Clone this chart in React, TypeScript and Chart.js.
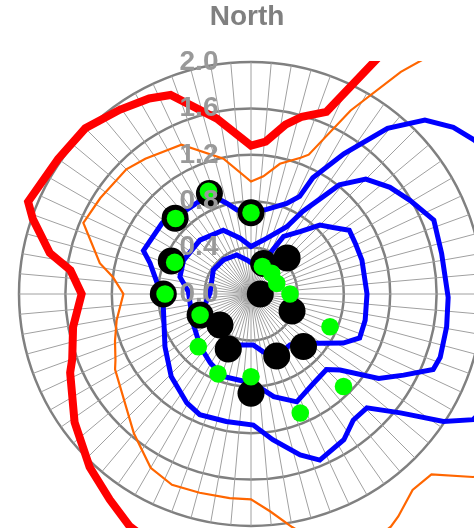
import React, { useEffect, useRef } from 'react';
import { Chart, registerables } from 'chart.js';

Chart.register(...registerables);

// Angular resolution of the radar categories (degrees)
const ANGLE_STEP = 0.5;
const ANGLE_COUNT = 720;
const SPOKE_EVERY = 10; // a spoke every 5 degrees

const titleText = 'North';
const tickValues = [0, 0.4, 0.8, 1.2, 1.6, 2.0];
const tickLabels = ['0.0', '0.4', '0.8', '1.2', '1.6', '2.0'];

// Outer red contour (angle clockwise from North, radius)
const redAngles = [0, 5.5, 11.5, 16, 22.5, 30, 45, 90, 135, 180, 207.5, 214.5, 223, 234, 246.5, 250, 259.5, 270, 277.5, 281.5, 289, 292.5, 305, 315, 324.5, 332.5, 338, 349];
const redValues = [1.28, 1.32, 1.49, 1.59, 1.70, 2.6, 2.9, 2.9, 2.9, 2.8, 2.26, 2.15, 2.04, 1.88, 1.70, 1.64, 1.56, 1.46, 1.57, 1.77, 1.99, 2.08, 2.03, 2.02, 1.95, 1.90, 1.85, 1.54];

// Orange contour
const orangeAngles = [0, 6, 12.5, 20, 22.5, 28.5, 34, 40, 50, 90, 120, 129.5, 135, 140.5, 146.5, 149, 160, 170, 175, 180, 186, 194.5, 202.5, 210, 220, 241, 244, 251, 259, 270, 277, 281.5, 293, 302.5, 315, 322, 335, 348.5];
const orangeValues = [0.97, 1.02, 1.15, 1.25, 1.30, 1.80, 2.31, 2.93, 3.3, 3.3, 3.0, 2.48, 2.2, 2.19, 2.30, 2.34, 2.45, 2.04, 1.88, 1.77, 1.77, 1.77, 1.78, 1.73, 1.57, 1.34, 1.30, 1.24, 1.18, 1.10, 1.20, 1.33, 1.57, 1.54, 1.52, 1.48, 1.42, 1.19];

// Outer blue contour
const blueOuterAngles = [0, 10.5, 21.5, 26.5, 28, 33.5, 39.5, 45, 50.5, 55.5, 70, 90, 110, 119.5, 123.5, 128.5, 134.5, 141, 147.5, 157.5, 163, 171.5, 179, 191, 203, 210.5, 224, 238.5, 266, 274.5, 280, 287, 292, 308.5, 312.5, 315, 337.5, 345, 350.5];
const blueOuterValues = [0.70, 0.742, 0.84, 0.94, 1.135, 1.45, 1.85, 2.12, 2.26, 2.34, 2.5, 2.4, 2.35, 2.20, 1.99, 1.646, 1.40, 1.40, 1.49, 1.55, 1.45, 1.27, 1.13, 1.12, 1.13, 1.09, 0.99, 0.87, 0.76, 0.80, 0.84, 0.91, 1.0, 0.98, 0.97, 0.93, 0.93, 0.81, 0.735];

// Middle blue contour
const blueMiddleAngles = [0, 13, 28, 32, 39, 45, 52.5, 59.5, 68, 78, 91, 99.5, 108.5, 112.5, 118, 123.5, 130.5, 135, 145, 157, 167.5, 178.5, 187.5, 198.5, 210.5, 224, 243, 272, 283.5, 296.5, 316.5, 336.5, 349];
const blueMiddleValues = [0.41, 0.477, 0.657, 0.84, 1.21, 1.40, 1.51, 1.59, 1.70, 1.68, 1.70, 1.71, 1.72, 1.70, 1.49, 1.32, 1.01, 0.92, 0.94, 1.01, 0.906, 0.77, 0.75, 0.75, 0.69, 0.63, 0.56, 0.54, 0.63, 0.65, 0.64, 0.60, 0.49];

// Inner blue contour
const blueInnerAngles = [0, 12, 25, 29.5, 38.5, 45, 51, 57, 64, 73, 90, 103, 112, 118, 125.5, 135, 142.5, 157.5, 168, 177.5, 192, 204, 225, 247.5, 271, 302.5, 321, 340, 353];
const blueInnerValues = [0.27, 0.24, 0.39, 0.57, 0.69, 0.84, 0.91, 1.01, 1.0, 1.0, 1.0, 1.01, 1.01, 0.9, 0.73, 0.6, 0.553, 0.58, 0.51, 0.44, 0.45, 0.51, 0.38, 0.47, 0.354, 0.385, 0.378, 0.358, 0.296];

// Black markers
const blackAngles = [0, 22.5, 45, 90, 112.5, 135, 157.5, 180, 202.5, 225, 247.5, 270, 292.5, 315, 337.5];
const blackValues = [0.70, 0.285, 0.44, 0.08, 0.383, 0.64, 0.579, 0.856, 0.513, 0.378, 0.475, 0.756, 0.744, 0.925, 0.937];

// Green markers
const greenAngles = [0, 22.5, 45, 67.5, 90, 112.5, 135, 157.5, 180, 202.5, 225, 247.5, 270, 292.5, 315, 337.5];
const greenValues = [0.70, 0.257, 0.252, 0.24, 0.336, 0.737, 1.128, 1.11, 0.713, 0.745, 0.642, 0.475, 0.741, 0.712, 0.92, 0.958];

const angleLabels = Array.from({ length: ANGLE_COUNT }, (_, i) => String(i * ANGLE_STEP));

function toSeries(angles: number[], values: number[]): (number | null)[] {
  const arr: (number | null)[] = new Array(ANGLE_COUNT).fill(null);
  angles.forEach((a, i) => {
    arr[Math.round(a / ANGLE_STEP) % ANGLE_COUNT] = values[i];
  });
  return arr;
}

const FONT_FAMILY = '"Liberation Sans", Arial, Helvetica, sans-serif';

const tickLabelPlugin = {
  id: 'tickLabelPlugin',
  afterDatasetsDraw(chart: any) {
    const s = chart.scales.r;
    const ctx = chart.ctx;
    ctx.save();
    ctx.font = `bold 28px ${FONT_FAMILY}`;
    ctx.fillStyle = '#999999';
    ctx.textAlign = 'center';
    ctx.textBaseline = 'middle';
    tickValues.forEach((v, i) => {
      const y = s.yCenter - s.getDistanceFromCenterForValue(v);
      ctx.fillText(tickLabels[i], s.xCenter - 52, y);
    });
    ctx.restore();
  },
};

export default function App() {
  const canvasRef = useRef<HTMLCanvasElement | null>(null);

  useEffect(() => {
    if (!canvasRef.current) return;
    const clip = { left: false, top: 1, right: false, bottom: false };
    const lineBase = { pointRadius: 0, fill: false, spanGaps: true, tension: 0, clip } as any;
    const chart = new Chart(canvasRef.current, {
      type: 'radar',
      data: {
        labels: angleLabels,
        datasets: [
          {
            label: 'green',
            data: toSeries(greenAngles, greenValues),
            showLine: false,
            pointRadius: 8.8,
            pointBackgroundColor: '#00ff00',
            pointBorderWidth: 0,
            borderColor: 'rgba(0,0,0,0)',
            fill: false,
          } as any,
          {
            label: 'black',
            data: toSeries(blackAngles, blackValues),
            showLine: false,
            pointRadius: 13.5,
            pointBackgroundColor: '#000000',
            pointBorderWidth: 0,
            borderColor: 'rgba(0,0,0,0)',
            fill: false,
          } as any,
          { label: 'blueInner', data: toSeries(blueInnerAngles, blueInnerValues), borderColor: '#0000ff', borderWidth: 5, ...lineBase },
          { label: 'blueMiddle', data: toSeries(blueMiddleAngles, blueMiddleValues), borderColor: '#0000ff', borderWidth: 5, ...lineBase },
          { label: 'blueOuter', data: toSeries(blueOuterAngles, blueOuterValues), borderColor: '#0000ff', borderWidth: 5, ...lineBase },
          { label: 'orange', data: toSeries(orangeAngles, orangeValues), borderColor: '#ff6600', borderWidth: 2.2, ...lineBase },
          { label: 'red', data: toSeries(redAngles, redValues), borderColor: '#ff0000', borderWidth: 8, ...lineBase },
        ],
      },
      options: {
        responsive: false,
        animation: false,
        devicePixelRatio: 1,
        events: [],
        layout: { padding: { left: 19, right: 17, top: 0, bottom: 14 } },
        plugins: {
          legend: { display: false },
          tooltip: { enabled: false },
          title: {
            display: true,
            text: titleText + '\u00a0',
            color: '#808080',
            font: { family: FONT_FAMILY, size: 28, weight: 'bold' },
            padding: { top: 0.5, bottom: 27.9 },
          },
        },
        scales: {
          r: {
            min: 0,
            max: 2,
            ticks: { display: false, stepSize: 0.4 },
            pointLabels: { display: false },
            grid: { circular: true, color: '#808080', lineWidth: 2.5 },
            angleLines: {
              display: true,
              color: '#a0a0a0',
              lineWidth: (c: any) => (c.index % SPOKE_EVERY === 0 ? 1 : 0),
            },
          },
        },
      } as any,
      plugins: [tickLabelPlugin],
    });
    return () => chart.destroy();
  }, []);

  return (
    <div style={{ position: 'fixed', left: 0, top: 0, width: 474, height: 528, overflow: 'hidden', background: '#fff' }}>
      <canvas ref={canvasRef} width={500} height={540} style={{ display: 'block', width: 500, height: 540 }} />
    </div>
  );
}
